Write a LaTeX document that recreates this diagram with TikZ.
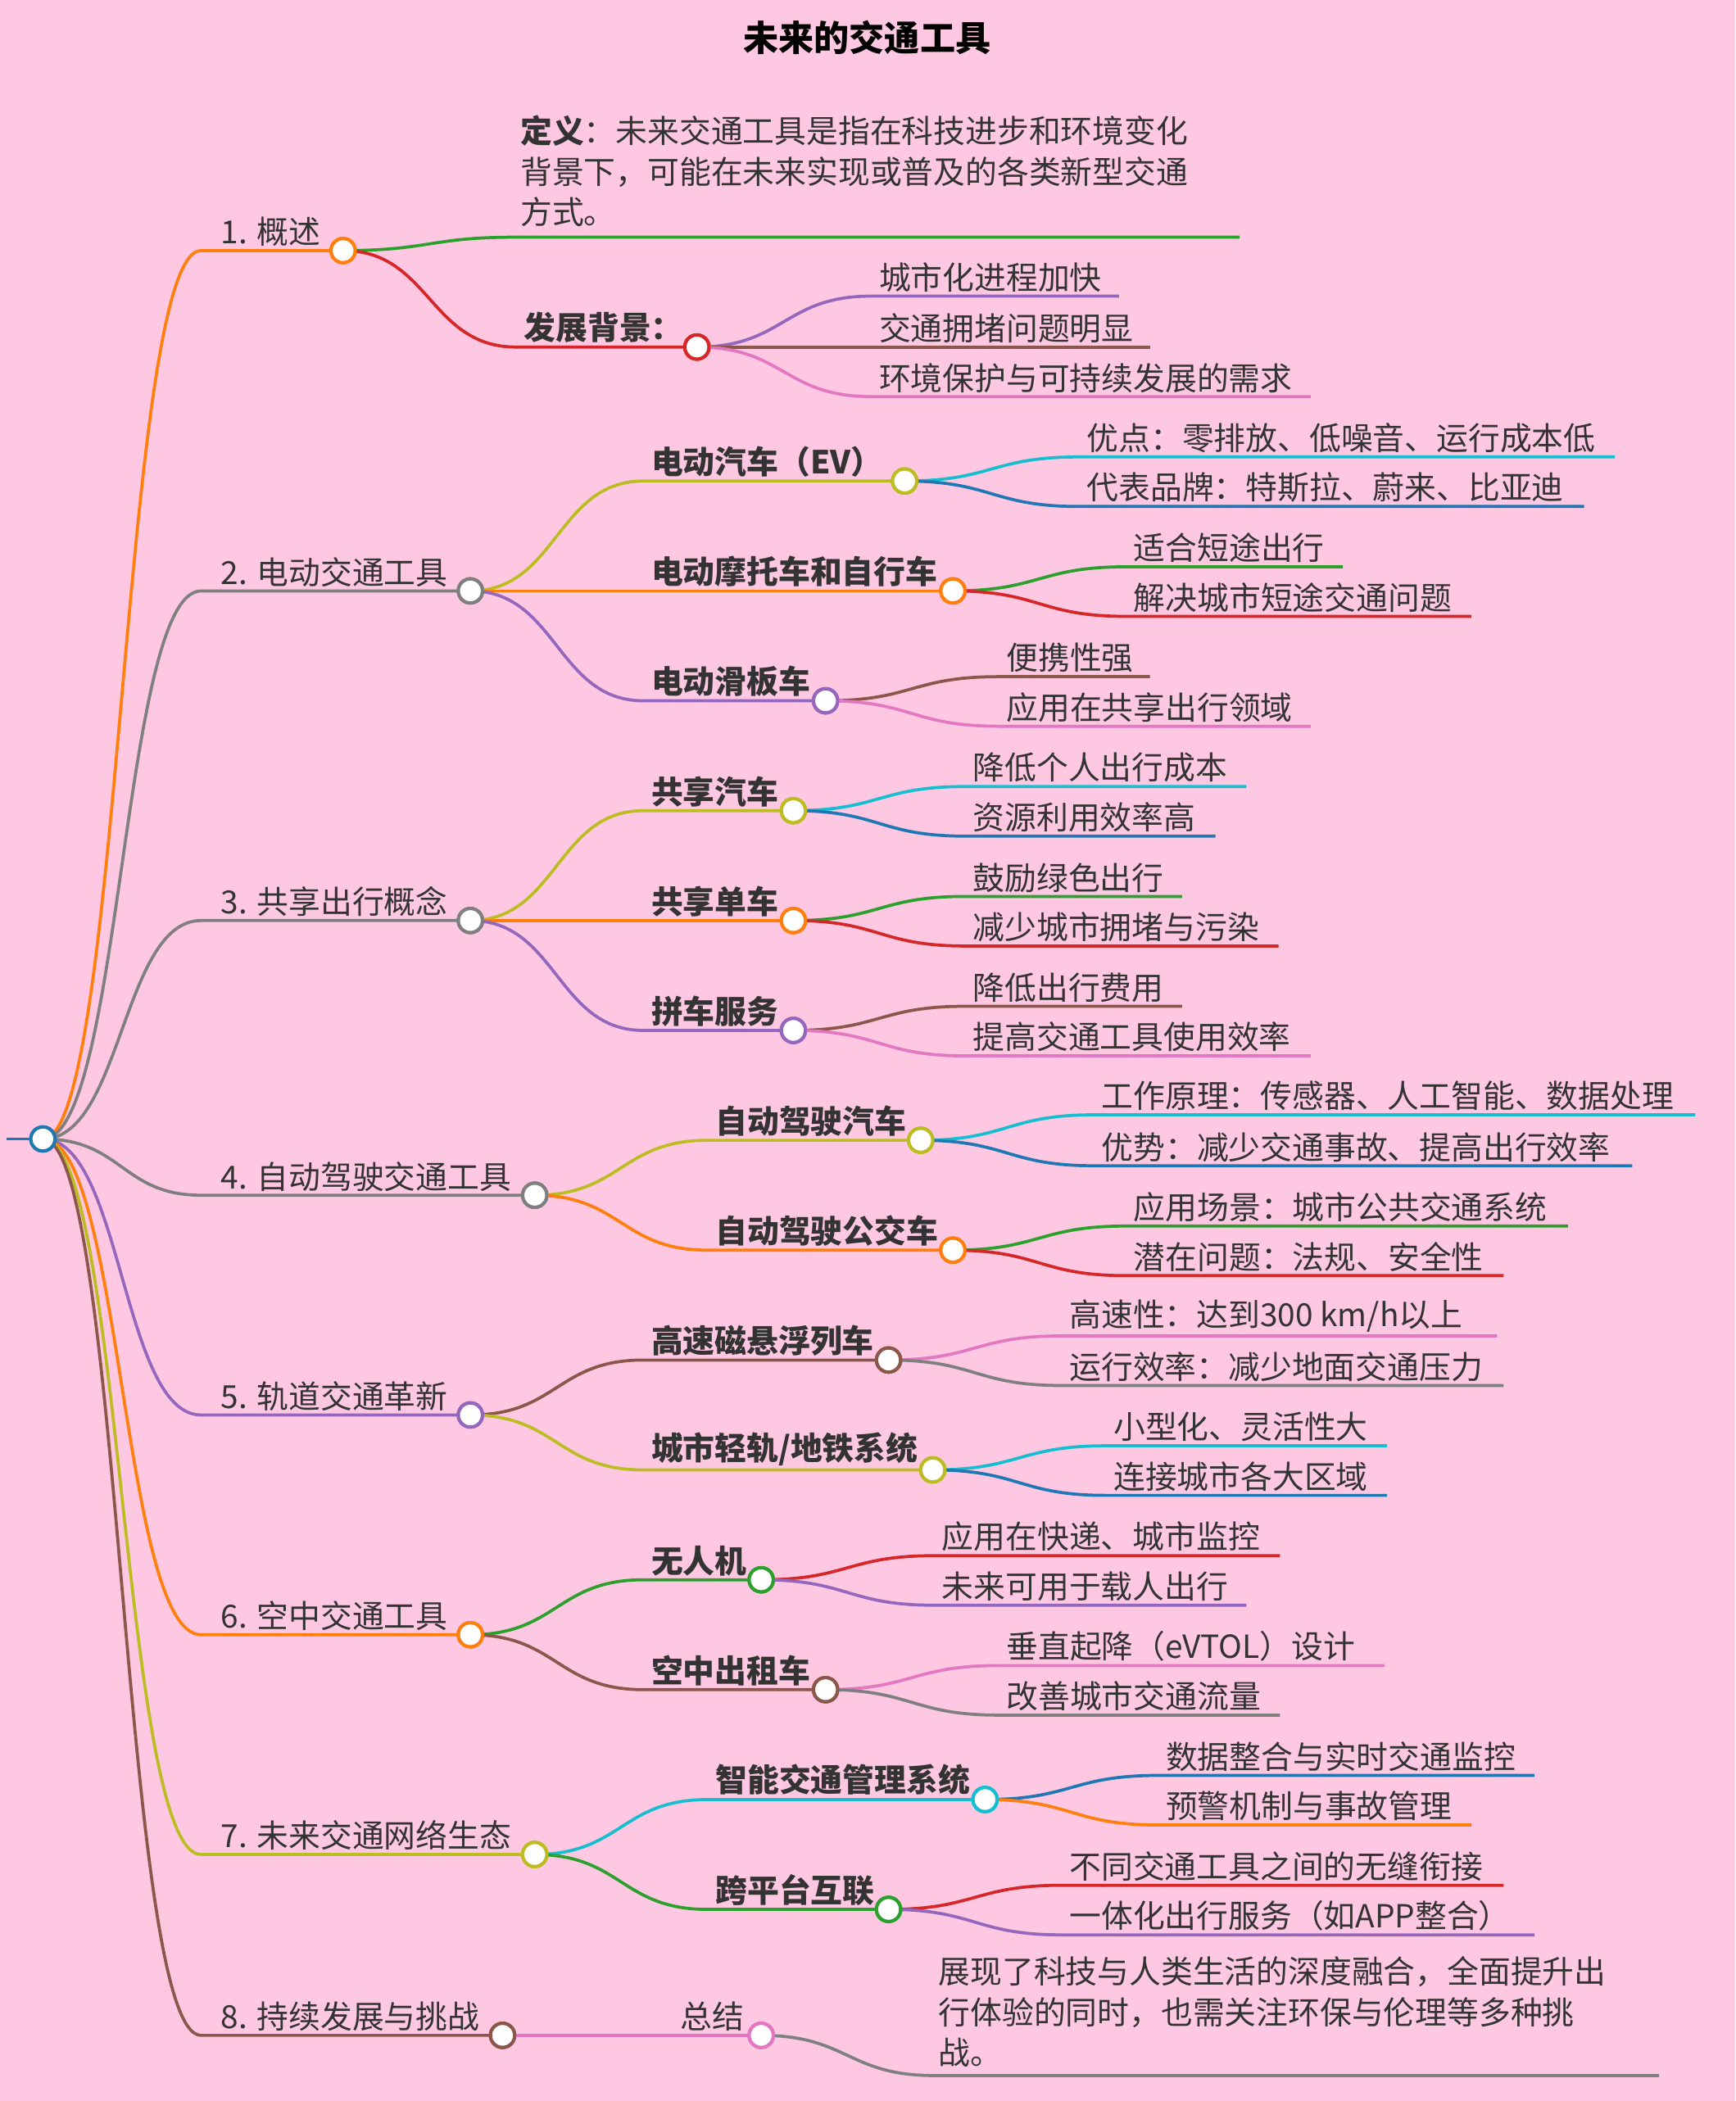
\documentclass[tikz,border=0pt]{standalone}
\usepackage{fontspec}
\setmainfont{Noto Sans CJK SC}
\usetikzlibrary{calc}
\definecolor{bg}{HTML}{FFC8E2}
\definecolor{cO}{HTML}{FF7F0E}\definecolor{cG}{HTML}{2CA02C}\definecolor{cR}{HTML}{D62728}
\definecolor{cP}{HTML}{9467BD}\definecolor{cB}{HTML}{8C564B}\definecolor{cK}{HTML}{E377C2}
\definecolor{cY}{HTML}{7F7F7F}\definecolor{cL}{HTML}{BCBD22}\definecolor{cC}{HTML}{17BECF}
\definecolor{cU}{HTML}{1F77B4}\definecolor{tx}{HTML}{333333}
\tikzset{conn/.style={line width=1.3pt},
 dot/.style={circle,draw,fill=white,line width=1.4pt,minimum size=0.36cm,inner sep=0pt},
 lbl/.style={anchor=south west,inner sep=1.5pt,text=tx,font=\fontsize{13.5}{17}\selectfont}}
% #1 parent #2 name #3 sx #4 y #5 ex #6 color #7 label #8 dot(1/0) #9 label xshift px
\newcommand\mbr[9]{%
 \coordinate (#2s) at (#3,#4); \coordinate (#2e) at (#5,#4);
 \draw[conn,#6] let \p1=(#1), \p2=(#2s) in (\p1) .. controls ({(\x1+\x2)/2},\y1) and ({(\x1+\x2)/2},\y2) .. (\p2) -- (#2e);
 \ifnum#8=1 \node[dot,draw=#6] (#2) at (#2e) {};\fi
 \node[lbl] (#2t) at ($(#2s)+(#9,0)$) {#7};
 \ifnum#8=1 \node[dot,draw=#6] at (#2e) {};\fi
 \node[dot,draw=#6,draw opacity=0,fill opacity=0] at (#1) {};}
\begin{document}
\begin{tikzpicture}[x=0.02cm,y=-0.02cm]
\fill[bg] (0,0) rectangle (1295,1568);
\useasboundingbox (0,0) rectangle (1295,1568);
\node[font=\fontsize{15}{18}\selectfont\bfseries,text=black] (title) at (647,28) {未来的交通工具};
\coordinate (rl) at (5,850);
\coordinate (root) at (32,850);
\draw[conn,cU] (rl) -- (root);
% level 1
\mbr{root}{a}{150}{187}{256}{cO}{1. 概述}{1}{12}
\mbr{root}{b}{150}{441}{351}{cY}{2. 电动交通工具}{1}{12}
\mbr{root}{c}{150}{687}{351}{cY}{3. 共享出行概念}{1}{12}
\mbr{root}{d}{150}{892}{399}{cY}{4. 自动驾驶交通工具}{1}{12}
\mbr{root}{e}{150}{1056}{351}{cP}{5. 轨道交通革新}{1}{12}
\mbr{root}{f}{150}{1220}{351}{cO}{6. 空中交通工具}{1}{12}
\mbr{root}{g}{150}{1384}{399}{cL}{7. 未来交通网络生态}{1}{12}
\mbr{root}{h}{150}{1519}{375}{cB}{8. 持续发展与挑战}{1}{12}
\node[dot,draw=cU] (rootc) at (root) {};
% 1
\mbr{a}{a1}{385}{177}{925}{cG}{}{0}{3}
\node[anchor=north west,inner sep=0pt,text=tx,font=\fontsize{13.5}{17.2}\selectfont,align=left] (a1p) at (388,86) {\textbf{定义}：未来交通工具是指在科技进步和环境变化\\背景下，可能在未来实现或普及的各类新型交通\\方式。};
\mbr{a}{a2}{385}{259}{520}{cR}{\bfseries 发展背景：}{1}{3}
\mbr{a2}{a21}{650}{221}{835}{cP}{城市化进程加快}{0}{3}
\mbr{a2}{a22}{650}{259}{858}{cB}{交通拥堵问题明显}{0}{3}
\mbr{a2}{a23}{650}{296}{978}{cK}{环境保护与可持续发展的需求}{0}{3}
% 2
\mbr{b}{b1}{480}{359}{675}{cL}{\bfseries 电动汽车（EV）}{1}{3}
\mbr{b1}{b11}{805}{341}{1205}{cC}{优点：零排放、低噪音、运行成本低}{0}{3}
\mbr{b1}{b12}{805}{378}{1182}{cU}{代表品牌：特斯拉、蔚来、比亚迪}{0}{3}
\mbr{b}{b2}{480}{441}{711}{cO}{\bfseries 电动摩托车和自行车}{1}{3}
\mbr{b2}{b21}{840}{423}{1002}{cG}{适合短途出行}{0}{3}
\mbr{b2}{b22}{840}{460}{1098}{cR}{解决城市短途交通问题}{0}{3}
\mbr{b}{b3}{480}{523}{616}{cP}{\bfseries 电动滑板车}{1}{3}
\mbr{b3}{b31}{745}{505}{858}{cB}{便携性强}{0}{3}
\mbr{b3}{b32}{745}{542}{978}{cK}{应用在共享出行领域}{0}{3}
% 3
\mbr{c}{c1}{480}{605}{592}{cL}{\bfseries 共享汽车}{1}{3}
\mbr{c1}{c11}{720}{587}{930}{cC}{降低个人出行成本}{0}{3}
\mbr{c1}{c12}{720}{624}{907}{cU}{资源利用效率高}{0}{3}
\mbr{c}{c2}{480}{687}{592}{cO}{\bfseries 共享单车}{1}{3}
\mbr{c2}{c21}{720}{669}{882}{cG}{鼓励绿色出行}{0}{3}
\mbr{c2}{c22}{720}{706}{954}{cR}{减少城市拥堵与污染}{0}{3}
\mbr{c}{c3}{480}{769}{592}{cP}{\bfseries 拼车服务}{1}{3}
\mbr{c3}{c31}{720}{751}{882}{cB}{降低出行费用}{0}{3}
\mbr{c3}{c32}{720}{788}{978}{cK}{提高交通工具使用效率}{0}{3}
% 4
\mbr{d}{d1}{528}{851}{687}{cL}{\bfseries 自动驾驶汽车}{1}{3}
\mbr{d1}{d11}{816}{832}{1265}{cC}{工作原理：传感器、人工智能、数据处理}{0}{3}
\mbr{d1}{d12}{816}{870}{1218}{cU}{优势：减少交通事故、提高出行效率}{0}{3}
\mbr{d}{d2}{528}{933}{711}{cO}{\bfseries 自动驾驶公交车}{1}{3}
\mbr{d2}{d21}{840}{915}{1170}{cG}{应用场景：城市公共交通系统}{0}{3}
\mbr{d2}{d22}{840}{952}{1122}{cR}{潜在问题：法规、安全性}{0}{3}
% 5
\mbr{e}{e1}{480}{1015}{663}{cB}{\bfseries 高速磁悬浮列车}{1}{3}
\mbr{e1}{e11}{792}{997}{1117}{cK}{高速性：达到300 km/h以上}{0}{3}
\mbr{e1}{e12}{792}{1034}{1122}{cY}{运行效率：减少地面交通压力}{0}{3}
\mbr{e}{e2}{480}{1097}{696}{cL}{\bfseries 城市轻轨/地铁系统}{1}{3}
\mbr{e2}{e21}{825}{1079}{1035}{cC}{小型化、灵活性大}{0}{3}
\mbr{e2}{e22}{825}{1116}{1035}{cU}{连接城市各大区域}{0}{3}
% 6
\mbr{f}{f1}{480}{1179}{568}{cG}{\bfseries 无人机}{1}{3}
\mbr{f1}{f11}{697}{1161}{955}{cR}{应用在快递、城市监控}{0}{3}
\mbr{f1}{f12}{697}{1198}{930}{cP}{未来可用于载人出行}{0}{3}
\mbr{f}{f2}{480}{1261}{616}{cB}{\bfseries 空中出租车}{1}{3}
\mbr{f2}{f21}{745}{1243}{1033}{cK}{垂直起降（eVTOL）设计}{0}{3}
\mbr{f2}{f22}{745}{1280}{955}{cY}{改善城市交通流量}{0}{3}
% 7
\mbr{g}{g1}{528}{1343}{735}{cC}{\bfseries 智能交通管理系统}{1}{3}
\mbr{g1}{g11}{864}{1325}{1145}{cU}{数据整合与实时交通监控}{0}{3}
\mbr{g1}{g12}{864}{1362}{1098}{cO}{预警机制与事故管理}{0}{3}
\mbr{g}{g2}{528}{1425}{663}{cG}{\bfseries 跨平台互联}{1}{3}
\mbr{g2}{g21}{792}{1407}{1122}{cR}{不同交通工具之间的无缝衔接}{0}{3}
\mbr{g2}{g22}{792}{1444}{1145}{cP}{一体化出行服务（如APP整合）}{0}{3}
% 8
\mbr{h}{h1}{375}{1519}{568}{cK}{}{1}{3}
\node[lbl] (h1l) at (505,1519) {总结};
\node[dot,draw=cK] at (h1e) {};
\mbr{h1}{h11}{697}{1549}{1238}{cY}{}{0}{3}
\node[anchor=north west,inner sep=0pt,text=tx,font=\fontsize{13.5}{17.2}\selectfont,align=left] (h11p) at (700,1460) {展现了科技与人类生活的深度融合，全面提升出\\行体验的同时，也需关注环保与伦理等多种挑\\战。};
% redraw level-1 dots on top
\foreach \n/\c in {a/cO,b/cY,c/cY,d/cY,e/cP,f/cO,g/cL,h/cB,a2/cR,b1/cL,b2/cO,b3/cP,c1/cL,c2/cO,c3/cP,d1/cL,d2/cO,e1/cB,e2/cL,f1/cG,f2/cB,g1/cC,g2/cG,h1/cK}
  \node[dot,draw=\c] at (\n e) {};
\node[dot,draw=cU] at (root) {};
\end{tikzpicture}
\end{document}
